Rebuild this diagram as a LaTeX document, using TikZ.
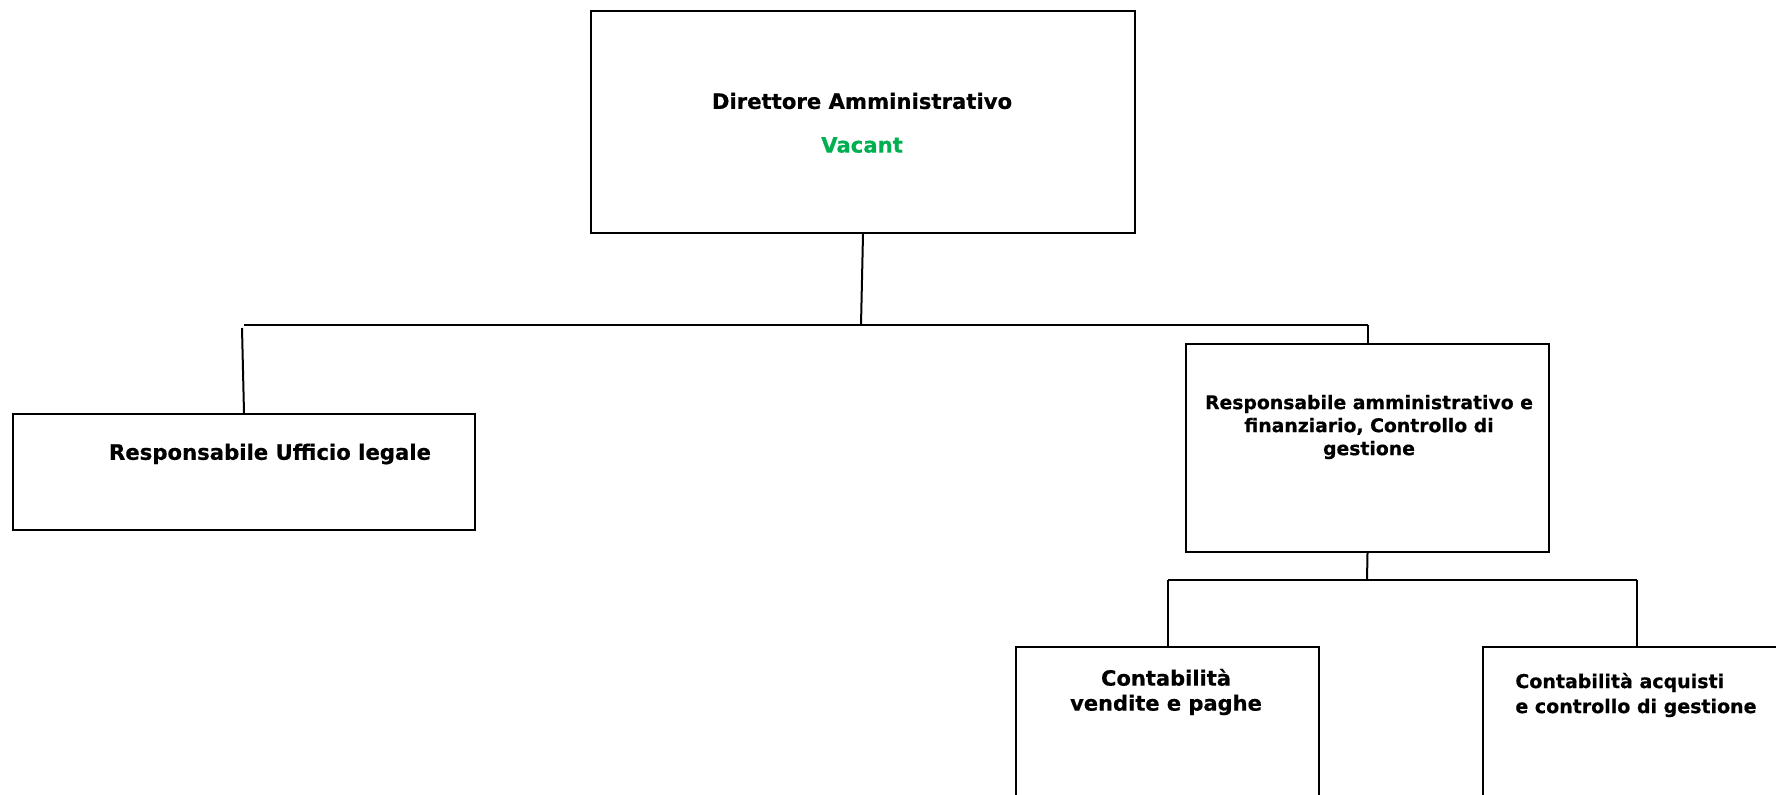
\documentclass[tikz,border=0pt]{standalone}
\usepackage{fontspec}
\setmainfont{DejaVu Sans}[BoldFeatures={FakeBold=0.6}]
\usetikzlibrary{calc}
\definecolor{vacgreen}{RGB}{0,176,80}
\tikzset{
  orgbox/.style = {draw, line width=1pt, anchor=north west, inner sep=0pt},
  link/.style = {line width=1pt},
  lbl/.style = {font=\bfseries\fontsize{10.6}{12.8}\selectfont, inner sep=0pt, align=center}
}

\begin{document}
\begin{tikzpicture}[x=0.5pt, y=-0.5pt]
\useasboundingbox (0,0) rectangle (1776,795);
\clip (0,0) rectangle (1776,795);

% boxes
\node[orgbox, minimum width=272pt, minimum height=111pt] (dir) at (590,10) {};
\node[orgbox, minimum width=231pt, minimum height=58pt] (legal) at (12,413) {};
\node[orgbox, minimum width=181.5pt, minimum height=104pt] (resp) at (1185,343) {};
\node[orgbox, minimum width=151.5pt, minimum height=100pt] (vend) at (1015,646) {};
\node[orgbox, minimum width=154pt, minimum height=100pt] (acq) at (1482,646) {};

% texts
\node[lbl] (dirname) at (862,101) {Direttore Amministrativo};
\node[lbl, text=vacgreen] (dirstate) at (862,145) {Vacant};
\node[lbl] (legalname) at (270,454) {Responsabile Ufficio legale};
\node[lbl, font=\bfseries\fontsize{9.4}{11.5}\selectfont] (respname) at (1369,427)
  {Responsabile amministrativo e\\finanziario, Controllo di\\gestione};
\node[lbl, font=\bfseries\fontsize{10.5}{12.5}\selectfont] (vendname) at (1166,692)
  {Contabilità\\vendite e paghe};
\node[lbl, font=\bfseries\fontsize{9.5}{12.5}\selectfont, align=left, anchor=west] (acqname) at (1515,695)
  {Contabilità acquisti\\e controllo di gestione};

% lines
\coordinate (bus1) at (861,325);
\coordinate (bus2) at (1367,580);
\draw[link] (dir.south) -- (bus1);
\draw[link] (bus1 -| legal.north) -- (bus1 -| resp.north);
\draw[link] ($(legal.north)+(-2,-85)$) -- (legal.north);
\draw[link] (bus1 -| resp.north) -- (resp.north);
\draw[link] (resp.south) -- (bus2);
\draw[link] (bus2 -| vend.north) -- (bus2 -| acq.north);
\draw[link] (bus2 -| vend.north) -- (vend.north);
\draw[link] (bus2 -| acq.north) -- (acq.north);
\end{tikzpicture}
\end{document}
